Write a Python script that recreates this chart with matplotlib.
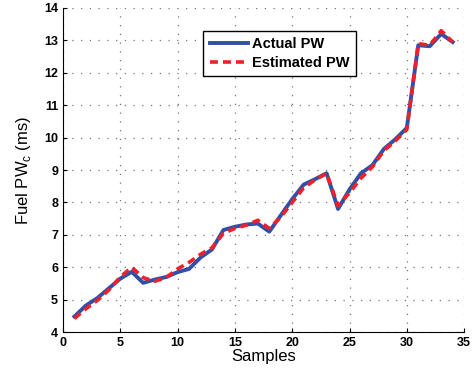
import matplotlib.pyplot as plt

plt.rcParams['font.family'] = ['Liberation Sans', 'DejaVu Sans']

samples = list(range(1, 35))
actual_pw = [4.48, 4.82, 5.05, 5.35, 5.65, 5.86, 5.52, 5.62, 5.7, 5.85,
             5.95, 6.3, 6.55, 7.15, 7.25, 7.32, 7.35, 7.1, 7.6, 8.1,
             8.55, 8.72, 8.9, 7.8, 8.4, 8.9, 9.15, 9.65, 9.95, 10.3,
             12.85, 12.82, 13.2, 12.95]
estimated_pw = [4.42, 4.72, 4.98, 5.3, 5.7, 6.0, 5.68, 5.57, 5.68, 5.95,
                6.15, 6.4, 6.6, 7.05, 7.2, 7.3, 7.45, 7.2, 7.55, 8.0,
                8.45, 8.7, 8.9, 7.9, 8.3, 8.75, 9.1, 9.6, 9.9, 10.25,
                12.9, 12.85, 13.3, 12.95]

fig = plt.figure(figsize=(4.77, 3.80), dpi=100)
ax = fig.add_axes([0.132, 0.126, 0.841, 0.853])

ax.plot(samples, actual_pw, color='#3050a8', lw=2.8, label='Actual PW')
ax.plot(samples, estimated_pw, color='#f0202a', lw=2.6, ls=(0, (2.2, 1.4)),
        label='Estimated PW')

ax.set_xlim(0, 35)
ax.set_ylim(4, 14)
ax.set_xticks(range(0, 36, 5))
ax.set_yticks(range(4, 15))
ax.grid(True, ls=(0, (1, 6)), color='#777777', lw=0.9)
ax.spines['top'].set_visible(False)
ax.spines['right'].set_visible(False)
ax.tick_params(direction='in', labelsize=9, width=0.8, length=3)
for lab in ax.get_xticklabels() + ax.get_yticklabels():
    lab.set_fontweight('bold')

ax.set_xlabel('Samples', fontsize=12, labelpad=0)
ax.set_ylabel('Fuel PW$_\\mathregular{c}$ (ms)', fontsize=12, labelpad=8)

leg = ax.legend(loc='upper center', bbox_to_anchor=(0.54, 0.952),
                prop={'weight': 'bold', 'size': 10.5}, fancybox=False,
                framealpha=1, edgecolor='black', handlelength=2.6,
                borderpad=0.45, labelspacing=0.3, handletextpad=0.3)
leg.get_frame().set_linewidth(1.0)

fig.savefig('out.png', dpi=100)
